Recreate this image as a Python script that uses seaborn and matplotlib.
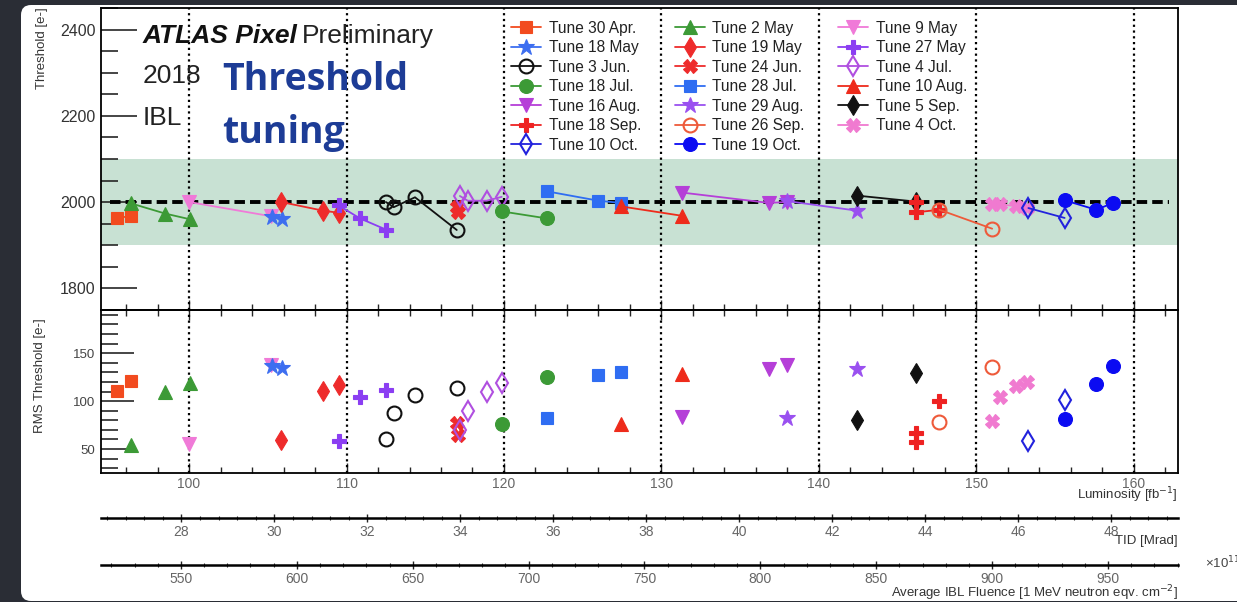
import matplotlib
matplotlib.use("Agg")
import matplotlib.pyplot as plt
from matplotlib.patches import FancyBboxPatch
from matplotlib.transforms import IdentityTransform
from matplotlib.ticker import MultipleLocator, FixedLocator
import pandas as pd
import seaborn as sns

# ---------------------------------------------------------------- data
tunes = ["Tune 30 Apr.", "Tune 2 May", "Tune 9 May",
         "Tune 18 May", "Tune 19 May", "Tune 27 May",
         "Tune 3 Jun.", "Tune 24 Jun.", "Tune 4 Jul.",
         "Tune 18 Jul.", "Tune 28 Jul.", "Tune 10 Aug.",
         "Tune 16 Aug.", "Tune 29 Aug.", "Tune 5 Sep.",
         "Tune 18 Sep.", "Tune 26 Sep.", "Tune 4 Oct.",
         "Tune 10 Oct.", "Tune 19 Oct."]

# integrated luminosity [fb^-1] of each threshold measurement, per tune
lumi = [[95.4, 96.3], [96.3, 98.5, 100.05], [100.0, 105.2],
        [105.3, 105.9], [105.85, 108.5, 109.5], [109.5, 110.85, 112.5],
        [112.5, 113.0, 114.35, 117.0], [117.0, 117.05], [117.2, 117.7, 118.9, 119.85],
        [119.9, 122.7], [122.7, 126.0, 127.4], [127.4, 131.3],
        [131.3, 136.8, 138.0], [138.0, 142.4], [142.4, 146.15],
        [146.15, 146.15, 147.65], [147.65, 151.0], [151.0, 151.5, 152.5, 153.2],
        [153.3, 155.6], [155.6, 157.6, 158.7]]

# mean threshold [e-]
threshold = [[1963, 1967], [1997, 1973, 1960], [2000, 1967],
             [1965, 1961], [2000, 1980, 1975], [1992, 1962, 1936],
             [2000, 1988, 2011, 1935], [1989, 1977], [2014, 2003, 2003, 2012],
             [1978, 1962], [2025, 2003, 1998], [1990, 1968],
             [2022, 1998, 2000], [2002, 1980], [2015, 2001],
             [2000, 1976, 1982], [1982, 1938], [1996, 1995, 1990, 1985],
             [1986, 1963], [2004, 1982, 1998]]

# threshold RMS [e-]
rms = [[111, 121], [54, 110, 119], [55, 138],
       [137, 135], [59, 111, 117], [58, 104, 112],
       [60, 88, 106, 114], [77, 65], [70, 90, 109, 119],
       [76, 125], [82, 127, 130], [76, 128],
       [83, 133, 138], [82, 133], [80, 129],
       [67, 57, 100], [78, 136], [79, 104, 116, 120],
       [58, 101], [81, 118, 137]]

lumi_grid = [100, 110, 120, 130, 140, 150, 160]
thr_ticks = [1800, 2000, 2200, 2400]
rms_ticks = [50, 100, 150]
target_thr = 2000
band = (1900, 2100)

# ---------------------------------------------------------------- styles
# marker, colour, filled
tune_style = {
    "Tune 30 Apr.": ("s", "#f24b1f", True),
    "Tune 2 May": ("^", "#3c9a36", True),
    "Tune 9 May": ("v", "#f07ad8", True),
    "Tune 18 May": ("*", "#3d6ef0", True),
    "Tune 19 May": ("d", "#ee2b2b", True),
    "Tune 27 May": ("P", "#8b3ef2", True),
    "Tune 3 Jun.": ("o", "#111111", False),
    "Tune 24 Jun.": ("X", "#ee2b2b", True),
    "Tune 4 Jul.": ("d", "#b04fe0", False),
    "Tune 18 Jul.": ("o", "#3c9a36", True),
    "Tune 28 Jul.": ("s", "#2f6df2", True),
    "Tune 10 Aug.": ("^", "#ee2b1b", True),
    "Tune 16 Aug.": ("v", "#b53fd8", True),
    "Tune 29 Aug.": ("*", "#9a50f0", True),
    "Tune 5 Sep.": ("d", "#111111", True),
    "Tune 18 Sep.": ("P", "#ee2222", True),
    "Tune 26 Sep.": ("o", "#ee5a3a", False),
    "Tune 4 Oct.": ("X", "#f07ad0", True),
    "Tune 10 Oct.": ("d", "#2222dd", False),
    "Tune 19 Oct.": ("o", "#0b0bf2", True),
}
marker_size = {"s": 9, "^": 10, "v": 10, "*": 12, "d": 10, "P": 10, "o": 10, "X": 10}

sns.set_theme(style="ticks")
plt.rcParams["font.family"] = ["Liberation Sans", "DejaVu Sans"]

W, H = 1237, 602
fig = plt.figure(figsize=(W / 100, H / 100), dpi=100)
fig.patch.set_facecolor("#2a2d35")


def fx(px):
    return px / W


def fy(py):
    return 1 - py / H


page = FancyBboxPatch((21, 1), 1300, 596, boxstyle="round,pad=0,rounding_size=10",
                      transform=IdentityTransform(), fc="white", ec="none", zorder=-10)
fig.add_artist(page)

L, R = 101, 1178
ax_top = fig.add_axes([fx(L), fy(310), (R - L) / W, (310 - 8) / H])
ax_bot = fig.add_axes([fx(L), fy(473), (R - L) / W, (473 - 310) / H])
ax_tid = fig.add_axes([fx(L), fy(518), (R - L) / W, 1 / H])
ax_flu = fig.add_axes([fx(L), fy(565), (R - L) / W, 1 / H])

for ax in (ax_top, ax_bot):
    ax.set_facecolor("none")
    ax.set_xlim(94.41, 162.8)
    for s in ax.spines.values():
        s.set_color("black")
        s.set_linewidth(1.3)
    for v in lumi_grid:
        ax.axvline(v, color="black", lw=1.6, ls=(0, (1, 1.6)), zorder=1)

ax_top.set_ylim(1749, 2451)
ax_bot.set_ylim(25, 195)

ax_top.axhspan(*band, color="#c8e1d3", lw=0, zorder=0)
ax_top.hlines(target_thr, 95.0, 162.2, colors="black", lw=2.8,
              linestyles=(0, (2.7, 1.3)), zorder=2)

# ---------------------------------------------------------------- points
rows = []
for name, xs, ts, rs in zip(tunes, lumi, threshold, rms):
    for x, t, r in zip(xs, ts, rs):
        rows.append({"tune": name, "lumi": x, "thr": t, "rms": r})
df = pd.DataFrame(rows)

handles = {}
for name in tunes:
    mk, col, filled = tune_style[name]
    sub = df[df["tune"] == name]
    kw = dict(marker=mk, markersize=marker_size[mk], color=col,
              markeredgecolor=col,
              markerfacecolor=col if filled else "none",
              markeredgewidth=0.8 if filled else 1.5)
    sns.lineplot(data=sub, x="lumi", y="thr", ax=ax_top, sort=False,
                 estimator=None, lw=1.3, label=name, legend=False, zorder=3, **kw)
    handles[name] = ax_top.get_lines()[-1]
    sns.lineplot(data=sub, x="lumi", y="rms", ax=ax_bot, sort=False,
                 estimator=None, linestyle="none", legend=False, zorder=3, **kw)

for ax in (ax_top, ax_bot):
    ax.set_xlabel("")
    ax.set_ylabel("")

# ---------------------------------------------------------------- ticks
ax_top.yaxis.set_major_locator(FixedLocator(thr_ticks))
ax_top.yaxis.set_minor_locator(MultipleLocator(50))
ax_top.tick_params(axis="y", which="major", direction="in", length=26, width=1.2,
                   labelsize=11.5, labelcolor="#333333", pad=4, left=True, right=False)
ax_top.tick_params(axis="y", which="minor", direction="in", length=12, width=1.2,
                   left=True, right=False)
ax_top.xaxis.set_major_locator(FixedLocator(lumi_grid))
ax_top.xaxis.set_minor_locator(MultipleLocator(2))
ax_top.tick_params(axis="x", which="both", direction="in", bottom=True, top=False,
                   labelbottom=False, width=1.0)
ax_top.tick_params(axis="x", which="major", length=7)
ax_top.tick_params(axis="x", which="minor", length=4)

ax_bot.yaxis.set_major_locator(FixedLocator(rms_ticks))
ax_bot.yaxis.set_minor_locator(MultipleLocator(10))
ax_bot.tick_params(axis="y", which="major", direction="in", length=24, width=1.2,
                   labelsize=9.5, labelcolor="#444444", pad=4, left=True, right=False)
ax_bot.tick_params(axis="y", which="minor", direction="in", length=12, width=1.2,
                   left=True, right=False)
ax_bot.xaxis.set_major_locator(FixedLocator(lumi_grid))
ax_bot.xaxis.set_minor_locator(MultipleLocator(2))
ax_bot.tick_params(axis="x", which="both", direction="in", bottom=True, top=True,
                   labelsize=10, labelcolor="#666666", pad=3, width=1.0)
ax_bot.tick_params(axis="x", which="major", length=7)
ax_bot.tick_params(axis="x", which="minor", length=4)

# secondary scales: TID and fluence
for ax, lim, major, minor in ((ax_tid, (26.27, 49.44), 2, 0.4),
                              (ax_flu, (515.5, 980.2), 50, 10)):
    ax.set_facecolor("none")
    ax.set_xlim(*lim)
    ax.set_yticks([])
    for side in ("top", "left", "right"):
        ax.spines[side].set_visible(False)
    ax.spines["bottom"].set_linewidth(1.8)
    ax.spines["bottom"].set_color("black")
    ax.xaxis.set_major_locator(MultipleLocator(major))
    ax.xaxis.set_minor_locator(MultipleLocator(minor))
    ax.tick_params(axis="x", which="major", direction="inout", length=6, width=1.0,
                   labelsize=10, labelcolor="#666666", pad=2)
    ax.tick_params(axis="x", which="minor", direction="inout", length=3, width=0.8)

# ---------------------------------------------------------------- legend
order = [i for c in range(3) for i in range(c, len(tunes), 3)]
leg = fig.legend([handles[tunes[i]] for i in order], [tunes[i] for i in order],
                 ncol=3, loc="upper left", bbox_to_anchor=(fx(511), fy(20.5)),
                 frameon=False, prop={"size": 11.2}, handlelength=1.93,
                 handletextpad=0.5, columnspacing=2.15, labelspacing=0.29,
                 borderpad=0, borderaxespad=0)
for t in leg.get_texts():
    t.set_color("#222222")

# ---------------------------------------------------------------- text
fig.text(fx(143), fy(43), "ATLAS Pixel", fontsize=19, fontweight="bold",
         fontstyle="italic", color="#111111", va="baseline")
fig.text(fx(302), fy(43), "Preliminary", fontsize=19, color="#222222", va="baseline")
fig.text(fx(143), fy(83), "2018", fontsize=19, color="#222222", va="baseline")
fig.text(fx(143), fy(125), "IBL", fontsize=19, color="#222222", va="baseline")
fig.text(fx(222), fy(90), "Threshold", fontsize=27, fontweight="bold",
         family="Open Sans", color="#1d3c96", va="baseline")
fig.text(fx(222), fy(143), "tuning", fontsize=27, fontweight="bold",
         family="Open Sans", color="#1d3c96", va="baseline")

fig.text(fx(42), fy(7), "Threshold [e-]", rotation=90, fontsize=9.5,
         color="#333333", ha="center", va="top")
fig.text(fx(40), fy(318), "RMS Threshold [e-]", rotation=90, fontsize=9.5,
         color="#333333", ha="center", va="top")

fig.text(fx(R), fy(495), "Luminosity [fb$^{-1}$]", fontsize=9.5,
         color="#333333", ha="right", va="center")
fig.text(fx(R), fy(541), "TID [Mrad]", fontsize=9.5,
         color="#333333", ha="right", va="center")
fig.text(fx(R), fy(593), "Average IBL Fluence [1 MeV neutron eqv. cm$^{-2}$]",
         fontsize=9.5, color="#333333", ha="right", va="center")
fig.text(fx(1205), fy(563), "×10$^{11}$", fontsize=9.5, color="#444444",
         ha="left", va="center")

fig.savefig("out.png", dpi=100, facecolor=fig.get_facecolor())
